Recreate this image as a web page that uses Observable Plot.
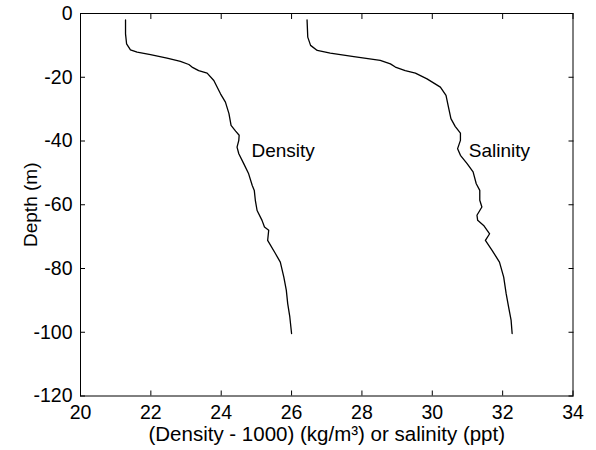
<!DOCTYPE html>
<html>
<head>
<meta charset="utf-8">
<script src="https://cdn.jsdelivr.net/npm/d3@7"></script>
<script src="https://cdn.jsdelivr.net/npm/@observablehq/plot@0.6"></script>
<style>
  html, body { margin: 0; padding: 0; background: #fff; }
  #chart svg { display: block; }
</style>
</head>
<body>
<div id="chart"></div>
<script>
// Density profile (depth m, density - 1000 kg/m^3)
const densityDepth = [-2, -6.4, -9.5, -11.4, -12.1, -12.9, -14.0, -15.0, -16.0, -16.8, -17.9, -18.7, -21.0, -25.2, -27.8, -31.4, -35.1, -36.9, -38.2, -39.8, -41.9, -44.0, -47.1, -50.3, -53.9, -55.5, -58.6, -61.8, -64.9, -67.0, -68.0, -71.2, -75.3, -78.0, -82.7, -86.8, -91.0, -95.2, -100.4];
const densityValue = [21.28, 21.28, 21.31, 21.42, 21.61, 21.99, 22.46, 22.84, 23.08, 23.17, 23.36, 23.60, 23.79, 23.98, 24.12, 24.22, 24.28, 24.41, 24.51, 24.50, 24.45, 24.50, 24.64, 24.78, 24.88, 24.94, 24.97, 25.02, 25.16, 25.23, 25.35, 25.32, 25.54, 25.68, 25.78, 25.85, 25.89, 25.95, 26.00];

// Salinity profile (depth m, salinity ppt)
const salinityDepth = [-2, -7.4, -10, -11.6, -12.4, -13.5, -14.7, -15.8, -16.8, -17.9, -18.7, -20.5, -23.1, -25.7, -29.4, -33.0, -35.4, -37.5, -38.8, -39.8, -42.4, -44.5, -47.1, -49.7, -53.4, -55.5, -58.6, -60.7, -63.3, -64.9, -66.5, -69.1, -71.2, -74.3, -78.0, -82.7, -87.9, -92.1, -96.2, -100.4];
const salinityValue = [26.44, 26.46, 26.54, 26.73, 27.10, 27.77, 28.52, 28.81, 28.95, 29.23, 29.52, 29.85, 30.23, 30.39, 30.46, 30.53, 30.65, 30.80, 30.80, 30.80, 30.72, 30.80, 30.99, 31.16, 31.25, 31.35, 31.35, 31.41, 31.27, 31.29, 31.46, 31.63, 31.51, 31.70, 31.91, 32.03, 32.10, 32.17, 32.24, 32.27];

// Curve labels
const labelNames = ["Density", "Salinity"];
const labelX = [24.86, 31.04];
const labelY = [-43, -43];

// Ticks
const xTicks = [20, 22, 24, 26, 28, 30, 32, 34];
const yTicks = [0, -20, -40, -60, -80, -100, -120];

const xTitle = "(Density - 1000) (kg/m³) or salinity (ppt)";
const yTitle = "Depth (m)";

const density = densityDepth.map((d, i) => ({depth: d, value: densityValue[i]}));
const salinity = salinityDepth.map((d, i) => ({depth: d, value: salinityValue[i]}));
const labels = labelNames.map((n, i) => ({name: n, x: labelX[i], y: labelY[i]}));

const chart = Plot.plot({
  width: 596,
  height: 450,
  marginLeft: 80,
  marginRight: 23.5,
  marginTop: 13,
  marginBottom: 54.5,
  style: {
    fontFamily: "'Liberation Sans', Arial, Helvetica, sans-serif",
    fontSize: "19.5px",
    background: "#fff",
    color: "#000"
  },
  x: {domain: [20, 34]},
  y: {domain: [-120, 0]},
  marks: [
    Plot.frame({stroke: "#000", strokeWidth: 1}),
    Plot.axisX({anchor: "bottom", ticks: xTicks, tickSize: -5, tickPadding: 14, label: null, fontSize: 19.5, tickFormat: d => String(d)}),
    Plot.axisX({anchor: "top", ticks: xTicks, tickSize: -5, label: null, tickFormat: () => ""}),
    Plot.axisY({anchor: "left", ticks: yTicks, tickSize: -5, tickPadding: 13, label: null, fontSize: 19.5, tickFormat: d => String(d)}),
    Plot.axisY({anchor: "right", ticks: yTicks, tickSize: -5, label: null, tickFormat: () => ""}),
    Plot.line(density, {x: "value", y: "depth", stroke: "#000", strokeWidth: 1.3}),
    Plot.line(salinity, {x: "value", y: "depth", stroke: "#000", strokeWidth: 1.3}),
    Plot.text(labels, {x: "x", y: "y", text: "name", textAnchor: "start", lineAnchor: "middle", fill: "#000", fontSize: 19}),
    Plot.text([xTitle], {text: d => d, frameAnchor: "bottom", dy: 38, lineAnchor: "middle", fill: "#000", fontSize: 20.5}),
    Plot.text([yTitle], {text: d => d, frameAnchor: "left", dx: -50, rotate: -90, lineAnchor: "middle", textAnchor: "middle", fill: "#000", fontSize: 19})
  ]
});
document.getElementById("chart").appendChild(chart);
</script>
</body>
</html>
